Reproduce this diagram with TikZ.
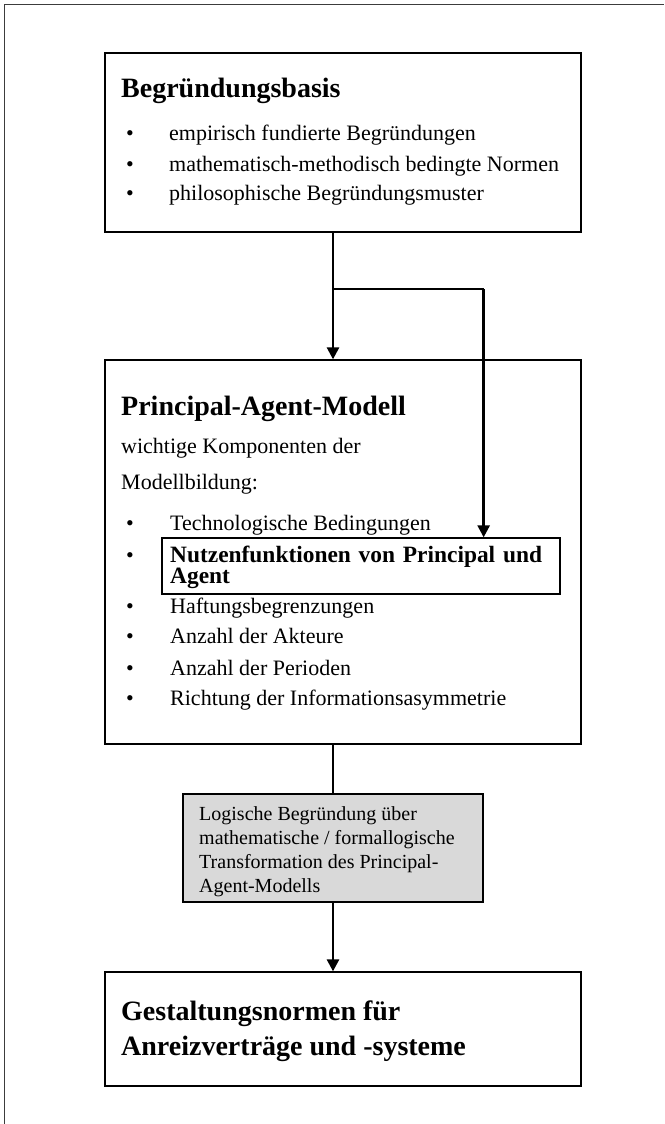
\documentclass[tikz,border=0pt]{standalone}
\usepackage{fontspec}
\setmainfont{Liberation Serif}
\usetikzlibrary{arrows.meta, positioning, calc}
\usepackage{xcolor}
\definecolor{boxgrey}{RGB}{217,217,217}
\definecolor{framegray}{RGB}{60,60,60}

\begin{document}
\begin{tikzpicture}[x=1pt, y=-1pt,
  box/.style={draw, line width=1.3pt, inner sep=0pt},
  greybox/.style={box, fill=boxgrey},
  titletext/.style={anchor=base west, inner sep=0pt, font=\fontsize{28}{32}\selectfont\bfseries},
  bodytext/.style={anchor=base west, inner sep=0pt, font=\fontsize{22}{26}\selectfont},
  boldtext/.style={anchor=base west, inner sep=0pt, text width=385pt, align=left, font=\fontsize{23.4}{20}\selectfont\bfseries},
  smalltext/.style={anchor=base west, inner sep=0pt, font=\fontsize{20}{24}\selectfont},
  dot/.style={anchor=base, inner sep=0pt, font=\fontsize{22}{26}\selectfont},
  arrow/.style={-{Triangle[length=12pt, width=12pt]}, line width=2.6pt},
  link/.style={line width=2.6pt},
  thinlink/.style={line width=1.3pt},
]
\useasboundingbox (0,0) rectangle (664,1124);
% outer frame (cut off at right and bottom)
\draw[framegray, line width=1.3pt] (4.5,1124) -- (4.5,4.5) -- (664,4.5);

% Boxes
\node[box, minimum width=476pt, minimum height=179pt] (basis) at (343,142.5) {};
\node[box, minimum width=476pt, minimum height=384pt] (pam) at (343,552) {};
\node[box, fill=white, minimum width=398pt, minimum height=56pt] (nutzen) at (361,566) {};
\node[greybox, minimum width=300pt, minimum height=108pt] (logik) at (333,848) {};
\node[box, minimum width=476pt, minimum height=114pt] (normen) at (343,1029) {};

% Begruendungsbasis
\node[titletext] (basistitle) at (121,97) {Begründungsbasis};
\foreach \y/\n in {140/1, 171/2, 200/3}
  \node[dot] (bdot\n) at (130,\y) {•};
\node[bodytext] (b1) at (169,140) {empirisch fundierte Begründungen};
\node[bodytext] (b2) at (169,171) {mathematisch-methodisch bedingte Normen};
\node[bodytext] (b3) at (169,200) {philosophische Begründungsmuster};

% Principal-Agent-Modell
\node[titletext] (pamtitle) at (121,415) {Principal-Agent-Modell};
\node[bodytext] (pamintro1) at (121,453) {wichtige Komponenten der};
\node[bodytext] (pamintro2) at (121,489) {Modellbildung:};
\foreach \y/\n in {530/1, 562/2, 613/3, 643/4, 675/5, 705/6}
  \node[dot] (pdot\n) at (130,\y) {•};
\node[bodytext] (p1) at (170,530) {Technologische Bedingungen};
\node[boldtext] (p2) at (170,562) {Nutzenfunktionen von Principal und\\Agent};
\node[bodytext] (p3) at (170,613) {Haftungsbegrenzungen};
\node[bodytext] (p4) at (170,643) {Anzahl der Akteure};
\node[bodytext] (p5) at (170,675) {Anzahl der Perioden};
\node[bodytext] (p6) at (170,705) {Richtung der Informationsasymmetrie};

% Transformation
\node[smalltext] (l1) at (199,820) {Logische Begründung über};
\node[smalltext] (l2) at (199,844) {mathematische / formallogische};
\node[smalltext] (l3) at (199,868) {Transformation des Principal-};
\node[smalltext] (l4) at (199,892) {Agent-Modells};

% Gestaltungsnormen
\node[titletext] (normtitle1) at (121,1020) {Gestaltungsnormen für};
\node[titletext] (normtitle2) at (121,1055) {Anreizverträge und -systeme};

% Connectors
\coordinate (split) at (logik.north |- 0,289);
\coordinate (corner) at (logik.east |- 0,289);
\draw[arrow] (logik.north |- basis.south) -- (logik.north |- pam.north);
\draw[thinlink] (split) -- (corner);
\draw[arrow] (corner) -- (corner |- nutzen.north);
\draw[link] (logik.north |- pam.south) -- (logik.north);
\draw[arrow] (logik.south) -- (logik.south |- normen.north);
\end{tikzpicture}
\end{document}
